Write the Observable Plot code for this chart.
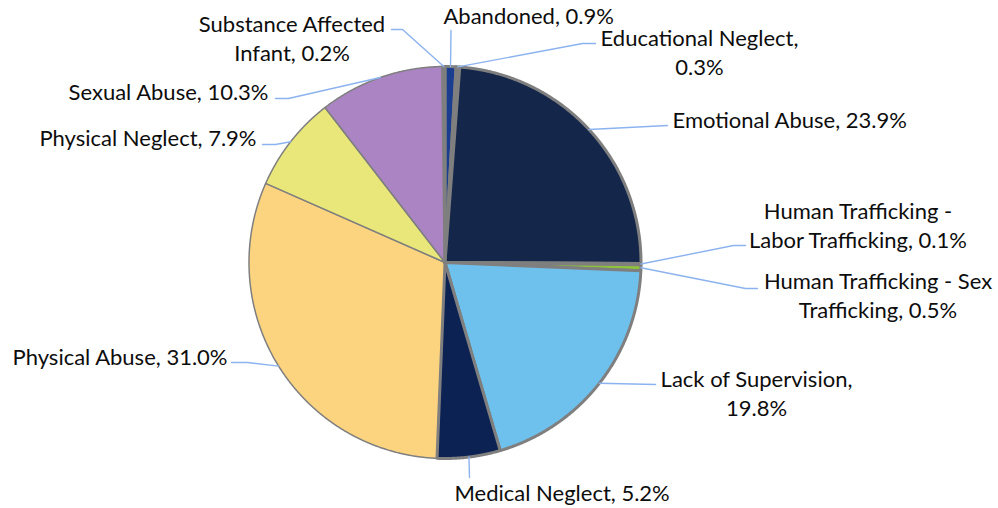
<!DOCTYPE html>
<html>
<head>
<meta charset="utf-8">
<script src="https://cdn.jsdelivr.net/npm/d3@7"></script>
<script src="https://cdn.jsdelivr.net/npm/@observablehq/plot@0.6"></script>
<style>
  html, body { margin: 0; padding: 0; background: #ffffff; }
  #chart svg { display: block; }
</style>
</head>
<body>
<div id="chart"></div>
<script>
// ---- data ----
const categories = [
  "Abandoned", "Educational Neglect", "Emotional Abuse",
  "Human Trafficking - Labor Trafficking", "Human Trafficking - Sex Trafficking",
  "Lack of Supervision", "Medical Neglect", "Physical Abuse",
  "Physical Neglect", "Sexual Abuse", "Substance Affected Infant"
];
const values = [0.9, 0.3, 23.9, 0.1, 0.5, 19.8, 5.2, 31.0, 7.9, 10.3, 0.2];
const labelTexts = [
  "Abandoned, 0.9%",
  "Educational Neglect,\n0.3%",
  "Emotional Abuse, 23.9%",
  "Human Trafficking -\nLabor Trafficking, 0.1%",
  "Human Trafficking - Sex\nTrafficking, 0.5%",
  "Lack of Supervision,\n19.8%",
  "Medical Neglect, 5.2%",
  "Physical Abuse, 31.0%",
  "Physical Neglect, 7.9%",
  "Sexual Abuse, 10.3%",
  "Substance Affected\nInfant, 0.2%"
];

// ---- styles ----
const sliceColors = ["#1b3d8f", "#7f7f7f", "#14274b", "#7f7f7f", "#8fc43a",
  "#6ec1ec", "#0c2252", "#fcd47f", "#e9e77a", "#ab84c3", "#7f7f7f"];
const sliceBorder = ["thick", "thick", "thick", "thick", "thick", "thick", "thick",
  "thin", "thin", "thin", "thick"];

// ---- layout (pixel space) ----
const W = 998, H = 508;
const pie = {cx: 444.5, cy: 262, r: 196};
// label anchor: x, first-line baseline y, text anchor; leader knee points after the slice edge point
const labelLayout = [
  {x: 443, y: 22, anchor: "start", knees: [[450.5, 30]]},
  {x: 699, y: 44, anchor: "middle", knees: [[582, 43], [595, 43]]},
  {x: 672, y: 126, anchor: "start", knees: [[667, 125]]},
  {x: 857.5, y: 217, anchor: "middle", knees: [[733, 245], [745, 245]]},
  {x: 877.5, y: 287, anchor: "middle", knees: [[745, 288], [757, 288]]},
  {x: 756, y: 385, anchor: "middle", knees: [[655, 384]]},
  {x: 454, y: 499, anchor: "start", knees: [[469, 477]]},
  {x: 227, y: 363, anchor: "end", knees: [[247, 362], [231, 362]]},
  {x: 256, y: 144, anchor: "end", knees: [[275, 144], [262, 144]]},
  {x: 268, y: 98, anchor: "end", knees: [[288, 98], [275, 98]]},
  {x: 291.5, y: 30, anchor: "middle", knees: [[402, 29], [391, 29]]}
];
const FONT_SIZE = 22;
const LINE_PX = 29.5;
const TOP_OFFSET_EM = 0.89;

// ---- derived geometry ----
const arcs = d3.pie().sort(null).value(d => d)(values);
const pt = (a, rr) => [pie.cx + rr * Math.sin(a), pie.cy - rr * Math.cos(a)];

const slicePts = [];
arcs.forEach((a, i) => {
  const n = Math.max(2, Math.ceil((a.endAngle - a.startAngle) / (Math.PI / 720)));
  const pts = [[pie.cx, pie.cy]];
  for (let k = 0; k <= n; k++) pts.push(pt(a.startAngle + (a.endAngle - a.startAngle) * k / n, pie.r));
  pts.forEach(([x, y], j) => slicePts.push({name: categories[i], x, y, color: sliceColors[i], border: sliceBorder[i], j}));
});

const leaderPts = [];
arcs.forEach((a, i) => {
  const mid = (a.startAngle + a.endAngle) / 2;
  const [sx, sy] = pt(mid, pie.r);
  leaderPts.push({name: categories[i], x: sx, y: sy});
  labelLayout[i].knees.forEach(([x, y]) => leaderPts.push({name: categories[i], x, y}));
});

const labelData = labelTexts.map((t, i) => ({
  text: t, x: labelLayout[i].x,
  y: labelLayout[i].y - TOP_OFFSET_EM * FONT_SIZE, anchor: labelLayout[i].anchor
}));

const textOpts = (anchor) => ({
  x: "x", y: "y", text: "text", textAnchor: anchor, lineAnchor: "top",
  lineHeight: LINE_PX / FONT_SIZE, fill: "#0d0d0d", fontSize: FONT_SIZE
});

const chart = Plot.plot({
  width: W, height: H,
  margin: 0,
  style: {fontFamily: "Lato, 'Open Sans', sans-serif", background: "#ffffff"},
  x: {domain: [0, W], range: [0, W], axis: null},
  y: {domain: [0, H], range: [0, H], axis: null},
  color: {type: "identity"},
  marks: [
    Plot.line(slicePts.filter(d => d.border === "thin"), {
      x: "x", y: "y", z: "name", fill: "color", stroke: "#7f7f7f",
      strokeWidth: 1.5, strokeLinejoin: "round", curve: "linear-closed"
    }),
    Plot.line(slicePts.filter(d => d.border === "thick"), {
      x: "x", y: "y", z: "name", fill: "color", stroke: "#7f7f7f",
      strokeWidth: 3, strokeLinejoin: "round", curve: "linear-closed"
    }),
    Plot.line(leaderPts, {
      x: "x", y: "y", z: "name", stroke: "#8cb3ef", strokeWidth: 1.4
    }),
    Plot.text(labelData.filter(d => d.anchor === "start"), textOpts("start")),
    Plot.text(labelData.filter(d => d.anchor === "middle"), textOpts("middle")),
    Plot.text(labelData.filter(d => d.anchor === "end"), textOpts("end"))
  ]
});
document.getElementById("chart").appendChild(chart);
</script>
</body>
</html>
